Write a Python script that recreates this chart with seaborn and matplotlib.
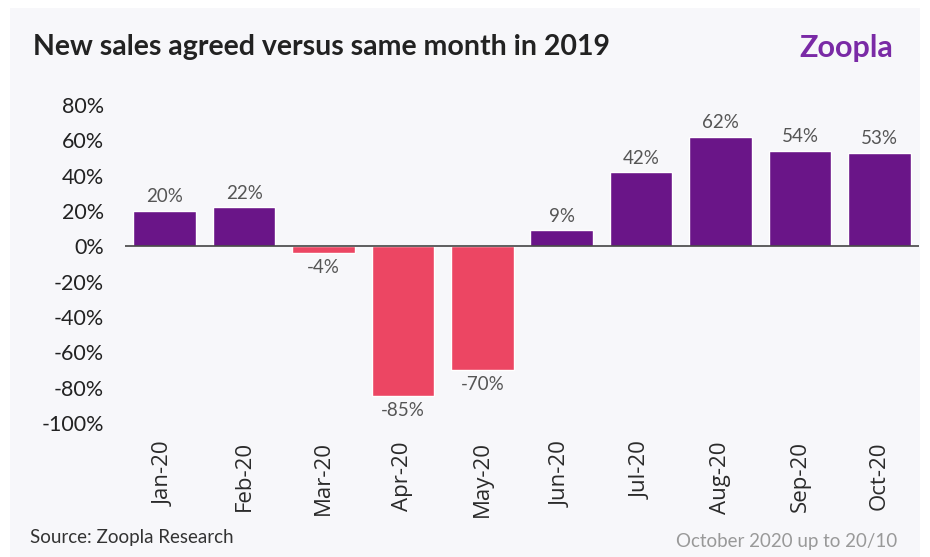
import matplotlib
matplotlib.use("Agg")
import matplotlib.pyplot as plt
import seaborn as sns
import pandas as pd
from matplotlib.patches import Rectangle

months = ["Jan-20", "Feb-20", "Mar-20", "Apr-20", "May-20", "Jun-20",
          "Jul-20", "Aug-20", "Sep-20", "Oct-20"]
values = [20, 22, -4, -85, -70, 9, 42, 62, 54, 53]
yticks = [80, 60, 40, 20, 0, -20, -40, -60, -80, -100]

PURPLE = "#6a1588"
RED = "#ec4663"
BG = "#f7f7fa"

df = pd.DataFrame({"month": months, "value": values})
df["sign"] = ["pos" if v >= 0 else "neg" for v in values]

sns.set_theme(style="white")
plt.rcParams["font.family"] = ["Lato", "DejaVu Sans"]

fig = plt.figure(figsize=(9.3, 5.57), dpi=100)
fig.patch.set_facecolor("white")
fig.patches.append(Rectangle((10 / 930, 0.0), 1 - 20 / 930, 1 - 8 / 557,
                             transform=fig.transFigure, facecolor=BG,
                             edgecolor="none", zorder=-10))

ax = fig.add_axes([125 / 930, 1 - 423 / 557, 794 / 930, 318 / 557])
ax.set_facecolor("none")
sns.barplot(data=df, x="month", y="value", hue="sign",
            palette={"pos": PURPLE, "neg": RED}, width=0.79,
            dodge=False, legend=False, ax=ax, saturation=1)

ax.set_ylim(-100, 80)
ax.set_xlim(-0.5, 9.5)
ax.set_yticks(yticks)
ax.set_yticklabels([f"{t}%" for t in yticks], fontsize=15.5, color="#222222")
ax.tick_params(axis="y", length=0, pad=15)
ax.tick_params(axis="x", length=0, pad=13)
ax.set_xticks(range(len(months)))
ax.set_xticklabels(months, rotation=90, fontsize=16, color="#2a2a2a",
                   fontfamily=["Open Sans", "DejaVu Sans"])
ax.set_xlabel("")
ax.set_ylabel("")
for s in ax.spines.values():
    s.set_visible(False)
ax.axhline(0, color="#444444", lw=1.2, zorder=3)

for i, v in enumerate(values):
    if v >= 0:
        ax.annotate(f"{v}%", (i, v), xytext=(0, 4), textcoords="offset points",
                    ha="center", va="bottom", fontsize=13.5, color="#555555")
    else:
        ax.annotate(f"{v}%", (i, v), xytext=(0, -4), textcoords="offset points",
                    ha="center", va="top", fontsize=13.5, color="#555555")

fig.text(33 / 930, 1 - 47 / 557, "New sales agreed versus same month in 2019",
         fontsize=20.5, fontweight="bold", color="#222222",
         va="center", ha="left")
fig.text(893 / 930, 1 - 48 / 557, "Zoopla", fontsize=22, fontweight="bold",
         color="#7a2aa6", va="center", ha="right")
fig.text(30 / 930, 1 - 538 / 557, "Source: Zoopla Research", fontsize=13.5,
         color="#333333", va="center", ha="left")
fig.text(897 / 930, 1 - 541 / 557, "October 2020 up to 20/10", fontsize=13.5,
         color="#999999", va="center", ha="right")

fig.savefig("out.png", dpi=100, facecolor=fig.get_facecolor())
